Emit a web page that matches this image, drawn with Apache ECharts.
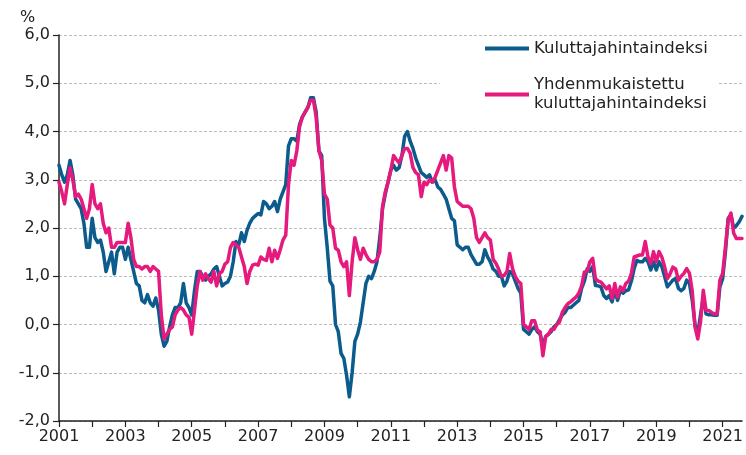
<!DOCTYPE html>
<html>
<head>
<meta charset="utf-8">
<script src="https://cdn.jsdelivr.net/npm/echarts/dist/echarts.min.js"></script>
<style>
html,body{margin:0;padding:0;background:#fff;}
#chart{width:746px;height:455px;}
</style>
</head>
<body>
<div id="chart"></div>
<script>
// ---- data (annual change, %) monthly, Jan 2001 - Aug 2021 ----
const startYear = 2001;
const seriesNames = ['Kuluttajahintaindeksi', 'Yhdenmukaistettu kuluttajahintaindeksi'];

// Kuluttajahintaindeksi (CPI)
const cpi = [
  3.3, 3.1, 2.95, 3.1, 3.4, 3.1, 2.6, 2.5, 2.4, 2.1, 1.6, 1.6,          // 2001
  2.2, 1.8, 1.7, 1.75, 1.5, 1.1, 1.3, 1.5, 1.05, 1.5, 1.6, 1.6,        // 2002
  1.35, 1.6, 1.35, 1.1, 0.85, 0.8, 0.5, 0.45, 0.62, 0.45, 0.38, 0.55,  // 2003
  0.3, -0.2, -0.45, -0.35, -0.05, 0.2, 0.35, 0.35, 0.45, 0.85, 0.45, 0.35, // 2004
  0.2, 0.7, 1.1, 1.1, 1.0, 0.92, 1.0, 1.05, 1.15, 1.2, 1.0, 0.8,       // 2005
  0.85, 0.88, 1.0, 1.3, 1.72, 1.65, 1.9, 1.72, 1.95, 2.1, 2.2, 2.25,   // 2006
  2.3, 2.27, 2.55, 2.5, 2.4, 2.45, 2.55, 2.34, 2.6, 2.75, 2.9, 3.7,    // 2007
  3.85, 3.85, 3.8, 4.15, 4.3, 4.4, 4.5, 4.7, 4.7, 4.4, 3.6, 3.5,       // 2008
  2.2, 1.6, 0.9, 0.8, 0.0, -0.15, -0.6, -0.7, -1.05, -1.5, -1.0, -0.35, // 2009
  -0.2, 0.05, 0.45, 0.85, 1.0, 0.95, 1.1, 1.3, 1.8, 2.4, 2.7, 2.95,    // 2010
  3.2, 3.3, 3.2, 3.25, 3.5, 3.9, 4.0, 3.8, 3.65, 3.45, 3.3, 3.15,      // 2011
  3.1, 3.05, 3.1, 2.95, 3.0, 2.85, 2.8, 2.7, 2.6, 2.4, 2.2, 2.15,      // 2012
  1.65, 1.6, 1.55, 1.6, 1.6, 1.45, 1.35, 1.25, 1.25, 1.3, 1.55, 1.4,   // 2013
  1.3, 1.15, 1.1, 1.0, 1.0, 0.8, 0.9, 1.1, 1.05, 0.9, 0.75, 0.65,      // 2014
  -0.1, -0.15, -0.2, -0.1, -0.05, -0.15, -0.2, -0.45, -0.25, -0.2, -0.15, -0.05, // 2015
  0.0, 0.1, 0.2, 0.25, 0.35, 0.35, 0.4, 0.45, 0.5, 0.75, 0.9, 1.15,    // 2016
  1.1, 1.2, 0.81, 0.8, 0.78, 0.6, 0.54, 0.6, 0.47, 0.7, 0.5, 0.7,      // 2017
  0.65, 0.7, 0.72, 0.9, 1.16, 1.33, 1.3, 1.3, 1.37, 1.3, 1.13, 1.3,    // 2018
  1.13, 1.3, 1.2, 1.0, 0.78, 0.85, 0.92, 0.95, 0.75, 0.7, 0.75, 0.92,  // 2019
  0.85, 0.5, 0.0, -0.2, 0.2, 0.57, 0.22, 0.2, 0.2, 0.19, 0.19, 0.78,   // 2020
  0.95, 1.5, 2.2, 2.27, 2.0, 2.05, 2.13, 2.24                          // 2021
];

// Yhdenmukaistettu kuluttajahintaindeksi (HICP)
const hicp = [
  2.95, 2.75, 2.5, 2.9, 3.25, 3.0, 2.65, 2.7, 2.6, 2.4, 2.2, 2.4,      // 2001
  2.9, 2.5, 2.4, 2.5, 2.1, 1.9, 2.0, 1.6, 1.6, 1.7, 1.7, 1.7,          // 2002
  1.7, 2.1, 1.8, 1.35, 1.2, 1.2, 1.15, 1.2, 1.2, 1.1, 1.2, 1.15,       // 2003
  1.1, 0.2, -0.3, -0.2, -0.1, -0.05, 0.2, 0.3, 0.35, 0.3, 0.2, 0.15,   // 2004
  -0.2, 0.3, 0.8, 1.1, 0.92, 1.05, 0.95, 0.88, 1.1, 0.8, 1.05, 1.1,    // 2005
  1.25, 1.3, 1.6, 1.7, 1.65, 1.6, 1.4, 1.2, 0.85, 1.1, 1.23, 1.25,     // 2006
  1.23, 1.4, 1.35, 1.33, 1.58, 1.3, 1.54, 1.37, 1.55, 1.75, 1.85, 2.9, // 2007
  3.4, 3.3, 3.6, 4.1, 4.3, 4.4, 4.5, 4.65, 4.65, 4.3, 3.6, 3.4,        // 2008
  2.7, 2.6, 2.06, 2.0, 1.58, 1.54, 1.3, 1.2, 1.3, 0.6, 1.3, 1.8,       // 2009
  1.55, 1.35, 1.58, 1.45, 1.35, 1.3, 1.3, 1.35, 1.5, 2.45, 2.75, 2.95, // 2010
  3.2, 3.5, 3.42, 3.35, 3.5, 3.65, 3.65, 3.55, 3.25, 3.15, 3.1, 2.65,  // 2011
  2.95, 2.9, 3.0, 2.95, 3.05, 3.2, 3.35, 3.5, 3.2, 3.5, 3.45, 2.85,    // 2012
  2.55, 2.5, 2.45, 2.45, 2.45, 2.4, 2.2, 1.8, 1.7, 1.8, 1.9, 1.8,      // 2013
  1.75, 1.35, 1.27, 1.15, 1.0, 1.02, 1.1, 1.47, 1.16, 1.0, 0.9, 0.85,  // 2014
  0.0, -0.05, -0.1, 0.08, 0.08, -0.12, -0.15, -0.65, -0.25, -0.2, -0.1, -0.1, // 2015
  0.0, 0.05, 0.25, 0.35, 0.43, 0.47, 0.52, 0.57, 0.65, 0.8, 1.09, 1.1, // 2016
  1.3, 1.37, 0.95, 0.9, 0.88, 0.81, 0.74, 0.8, 0.54, 0.85, 0.57, 0.78, // 2017
  0.7, 0.85, 0.9, 1.06, 1.4, 1.42, 1.44, 1.44, 1.72, 1.4, 1.26, 1.51,  // 2018
  1.3, 1.51, 1.4, 1.2, 0.95, 1.05, 1.19, 1.15, 0.92, 1.0, 1.06, 1.16,  // 2019
  1.06, 0.7, -0.05, -0.3, 0.05, 0.71, 0.29, 0.29, 0.25, 0.22, 0.22, 0.92, // 2020
  1.06, 1.6, 2.17, 2.31, 1.89, 1.78, 1.78, 1.78                        // 2021
];

// month categories
const months = [];
for (let i = 0; i < cpi.length; i++) {
  const y = startYear + Math.floor(i / 12);
  const m = (i % 12) + 1;
  months.push(y + 'M' + (m < 10 ? '0' + m : m));
}

const FONT = 'DejaVu Sans';
const TXT = '#222';
const chart = echarts.init(document.getElementById('chart'), null, {renderer: 'canvas'});
chart.setOption({
  animation: false,
  backgroundColor: '#fff',
  textStyle: {fontFamily: FONT},
  title: {
    text: '%', left: 15, top: 5,
    textStyle: {fontFamily: FONT, fontSize: 16, fontWeight: 'normal', color: TXT}
  },
  grid: {left: 59, right: 1, top: 35, bottom: 34, containLabel: false},
  legend: {
    orient: 'vertical',
    left: 440, top: 39,
    itemWidth: 44, itemHeight: 4, itemGap: 8,
    padding: [0, 10, 6, 45],
    backgroundColor: '#fff',
    icon: 'rect',
    selectedMode: false,
    textStyle: {fontFamily: FONT, fontSize: 16.5, color: TXT, lineHeight: 19},
    data: [
      {name: seriesNames[0]},
      {name: seriesNames[1], textStyle: {padding: [19, 0, 0, 0]}}
    ],
    formatter: function (n) {
      return n === seriesNames[1] ? 'Yhdenmukaistettu\nkuluttajahintaindeksi' : n;
    }
  },
  xAxis: {
    type: 'category',
    data: months,
    boundaryGap: false,
    axisLine: {onZero: false, lineStyle: {color: TXT, width: 1.5}},
    axisTick: {
      show: true, length: 6,
      interval: function (i) { return i % 12 === 0; },
      lineStyle: {color: TXT, width: 1.2}
    },
    axisLabel: {
      interval: function (i) { return i % 24 === 0; },
      formatter: function (v) { return v.slice(0, 4); },
      fontFamily: FONT, fontSize: 16, color: TXT, margin: 8
    },
    splitLine: {show: false}
  },
  yAxis: {
    type: 'value',
    min: -2, max: 6, interval: 1,
    axisLine: {show: true, lineStyle: {color: TXT, width: 1.5}},
    axisTick: {show: true, length: 6, lineStyle: {color: TXT, width: 1.2}},
    axisLabel: {
      formatter: function (v) { return v.toFixed(1).replace('.', ','); },
      fontFamily: FONT, fontSize: 16, color: TXT, margin: 9
    },
    splitLine: {show: true, lineStyle: {color: '#bdbdbd', type: [3, 2], width: 1}}
  },
  series: [
    {
      name: seriesNames[0], type: 'line', data: cpi,
      symbol: 'none', showSymbol: false,
      lineStyle: {width: 3.5, color: '#0b5b8c', join: 'round', cap: 'round'},
      itemStyle: {color: '#0b5b8c'},
      z: 2
    },
    {
      name: seriesNames[1], type: 'line', data: hicp,
      symbol: 'none', showSymbol: false,
      lineStyle: {width: 3.5, color: '#e6197d', join: 'round', cap: 'round'},
      itemStyle: {color: '#e6197d'},
      z: 3
    }
  ]
});
</script>
</body>
</html>
